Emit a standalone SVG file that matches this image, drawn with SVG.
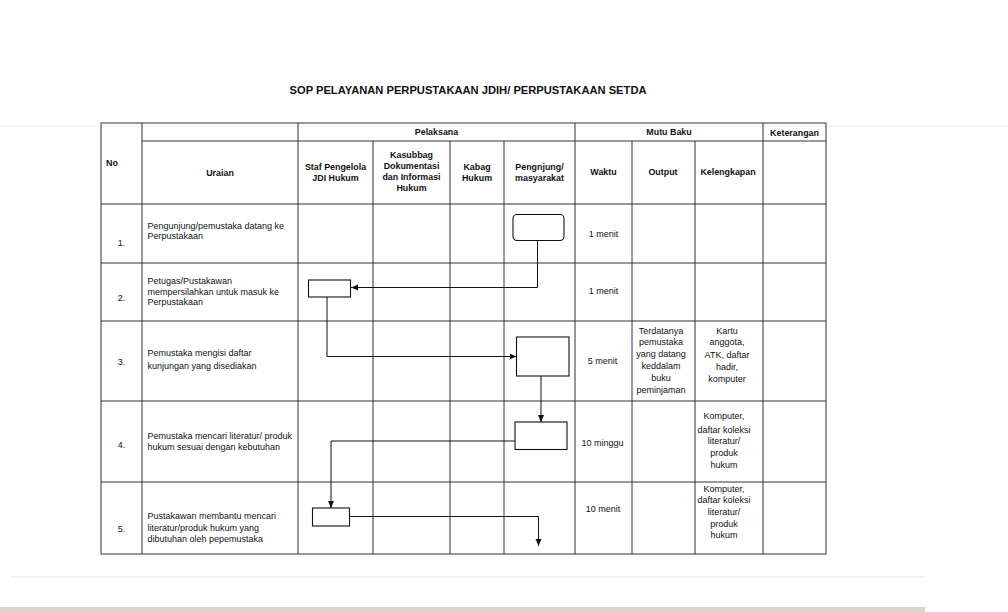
<svg xmlns="http://www.w3.org/2000/svg" width="1008" height="612" viewBox="0 0 1008 612">
<defs>
<style>
.t{font-family:"Liberation Sans",Arial,sans-serif;font-size:9px;fill:#111}
.b{font-weight:bold;font-size:8.9px}
.c{text-anchor:middle}
.grid{stroke:#333;stroke-width:1;fill:none}
.box{fill:#fff;stroke:#111;stroke-width:1.1}
.conn{fill:none;stroke:#111;stroke-width:1}
</style>
<marker id="ar" markerUnits="userSpaceOnUse" markerWidth="8" markerHeight="8" viewBox="0 0 8 8" refX="7" refY="4" orient="auto">
<path d="M0,1 L7,4 L0,7 Z" fill="#111"/>
</marker>
</defs>
<rect x="0" y="0" width="1008" height="612" fill="#fff"/>
<line x1="0" y1="126" x2="1008" y2="126" stroke="#ececec" stroke-width="1"/>
<line x1="10" y1="577" x2="925" y2="577" stroke="#e6e6e6" stroke-width="1"/>
<rect x="0" y="607" width="925" height="5" fill="#d8d6d0"/>

<text class="t b c" x="468" y="94" style="font-size:11px" textLength="357" lengthAdjust="spacingAndGlyphs">SOP PELAYANAN PERPUSTAKAAN JDIH/ PERPUSTAKAAN SETDA</text>

<g id="table" class="grid">
<rect x="101" y="123" width="725" height="431"/>
<line x1="142" y1="141" x2="826" y2="141"/>
<line x1="101" y1="204" x2="826" y2="204"/>
<line x1="101" y1="263" x2="826" y2="263"/>
<line x1="101" y1="321" x2="826" y2="321"/>
<line x1="101" y1="401" x2="826" y2="401"/>
<line x1="101" y1="482" x2="826" y2="482"/>
<line x1="142" y1="123" x2="142" y2="554"/>
<line x1="298" y1="123" x2="298" y2="554"/>
<line x1="373" y1="141" x2="373" y2="554"/>
<line x1="450" y1="141" x2="450" y2="554"/>
<line x1="504" y1="141" x2="504" y2="554"/>
<line x1="575" y1="123" x2="575" y2="554"/>
<line x1="632" y1="141" x2="632" y2="554"/>
<line x1="695" y1="141" x2="695" y2="554"/>
<line x1="763" y1="123" x2="763" y2="554"/>
</g>

<g id="header">
<text class="t b" x="106" y="166">No</text>
<text class="t b c" x="436.5" y="135">Pelaksana</text>
<text class="t b c" x="669" y="135">Mutu Baku</text>
<text class="t b c" x="794.5" y="136">Keterangan</text>
<text class="t b c" x="220" y="176">Uraian</text>
<text class="t b c" x="335.5" y="170">Staf Pengelola</text>
<text class="t b c" x="335.5" y="180.5">JDI Hukum</text>
<text class="t b c" x="411.5" y="158">Kasubbag</text>
<text class="t b c" x="411.5" y="169">Dokumentasi</text>
<text class="t b c" x="411.5" y="180">dan Informasi</text>
<text class="t b c" x="411.5" y="191">Hukum</text>
<text class="t b c" x="477" y="170">Kabag</text>
<text class="t b c" x="477" y="180.5">Hukum</text>
<text class="t b c" x="539.5" y="170">Pengnjung/</text>
<text class="t b c" x="539.5" y="180.5">masyarakat</text>
<text class="t b c" x="603.5" y="175">Waktu</text>
<text class="t b c" x="663" y="175">Output</text>
<text class="t b c" x="728" y="175">Kelengkapan</text>
</g>

<g id="row1">
<text class="t c" x="121.5" y="245.5">1.</text>
<text class="t" x="147.5" y="229">Pengunjung/pemustaka datang ke</text>
<text class="t" x="147.5" y="239">Perpustakaan</text>
<text class="t c" x="603.5" y="236.5">1 menit</text>
</g>
<g id="row2">
<text class="t c" x="121.5" y="301">2.</text>
<text class="t" x="147.5" y="284">Petugas/Pustakawan</text>
<text class="t" x="147.5" y="295">mempersilahkan untuk masuk ke</text>
<text class="t" x="147.5" y="305">Perpustakaan</text>
<text class="t c" x="603.5" y="294">1 menit</text>
</g>
<g id="row3">
<text class="t c" x="121.5" y="365">3.</text>
<text class="t" x="147.5" y="355.5">Pemustaka mengisi daftar</text>
<text class="t" x="147.5" y="369">kunjungan yang disediakan</text>
<text class="t c" x="602.5" y="363.5">5 menit</text>
<text class="t c" x="661" y="333.5">Terdatanya</text>
<text class="t c" x="661" y="345">pemustaka</text>
<text class="t c" x="661" y="357">yang datang</text>
<text class="t c" x="661" y="369">keddalam</text>
<text class="t c" x="661" y="381">buku</text>
<text class="t c" x="661" y="393">peminjaman</text>
<text class="t c" x="727" y="334">Kartu</text>
<text class="t c" x="727" y="345">anggota,</text>
<text class="t c" x="727" y="357.5">ATK, daftar</text>
<text class="t c" x="727" y="369.5">hadir,</text>
<text class="t c" x="727" y="381.5">komputer</text>
</g>
<g id="row4">
<text class="t c" x="121.5" y="448">4.</text>
<text class="t" x="147.5" y="438.5">Pemustaka mencari literatur/ produk</text>
<text class="t" x="147.5" y="450">hukum sesuai dengan kebutuhan</text>
<text class="t c" x="602.5" y="446">10 minggu</text>
<text class="t c" x="724" y="419">Komputer,</text>
<text class="t c" x="724" y="432.5">daftar koleksi</text>
<text class="t c" x="724" y="444">literatur/</text>
<text class="t c" x="724" y="456">produk</text>
<text class="t c" x="724" y="467.5">hukum</text>
</g>
<g id="row5">
<text class="t c" x="121.5" y="532">5.</text>
<text class="t" x="147.5" y="519">Pustakawan membantu mencari</text>
<text class="t" x="147.5" y="531">literatur/produk hukum yang</text>
<text class="t" x="147.5" y="542">dibutuhan oleh pepemustaka</text>
<text class="t c" x="603" y="511.5">10 menit</text>
<text class="t c" x="724" y="491.5">Komputer,</text>
<text class="t c" x="724" y="503">daftar koleksi</text>
<text class="t c" x="724" y="515">literatur/</text>
<text class="t c" x="724" y="526.5">produk</text>
<text class="t c" x="724" y="537.5">hukum</text>
</g>

<g id="connectors">
<path class="conn" d="M537.5,240.5 V287.5 H351" marker-end="url(#ar)"/>
<path class="conn" d="M327,297 V356.5 H516.5" marker-end="url(#ar)"/>
<path class="conn" d="M541,376 V422" marker-end="url(#ar)"/>
<path class="conn" d="M515,441 H331 V508" marker-end="url(#ar)"/>
<path class="conn" d="M349.5,516.5 H538.5 V546" marker-end="url(#ar)"/>
</g>

<g id="n1"><rect class="box" x="513" y="214.5" width="51" height="26" rx="4"/></g>
<g id="n2"><rect class="box" x="308.5" y="280" width="42" height="17"/></g>
<g id="n3"><rect class="box" x="516.5" y="337" width="52.5" height="39"/></g>
<g id="n4"><rect class="box" x="515" y="422" width="52" height="27.5"/></g>
<g id="n5"><rect class="box" x="312.5" y="508" width="37" height="18"/></g>
</svg>
